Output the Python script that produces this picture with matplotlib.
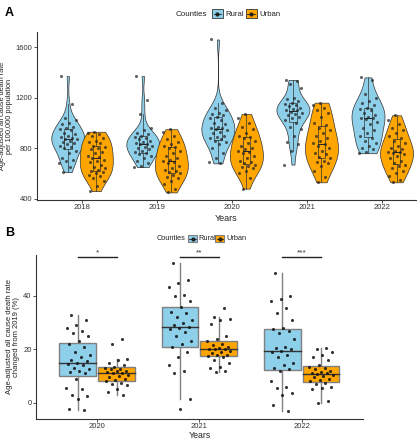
import numpy as np
import matplotlib
matplotlib.use("Agg")
import matplotlib.pyplot as plt
from matplotlib.patches import Rectangle
from matplotlib.lines import Line2D

plt.rcParams['font.family'] = ['Liberation Sans', 'DejaVu Sans']

RURAL = "#8ECFEA"
URBAN = "#FFA500"

# ---- panel A data: age-adjusted death rate per 100,000 ----
years_a = ["2018", "2019", "2020", "2021", "2022"]
rural_a = [
    [1370, 1150, 1040, 1020, 1000, 990, 970, 960, 950, 940, 920, 910, 900, 890, 880, 870,
     870, 860, 850, 840, 830, 820, 810, 800, 780, 760, 720, 710, 700, 680, 650, 610],
    [1370, 1180, 1070, 960, 940, 920, 910, 900, 890, 880, 870, 860, 850, 840, 830, 830,
     820, 810, 800, 790, 780, 770, 760, 750, 740, 720, 700, 680, 660, 650],
    [1660, 1160, 1120, 1100, 1080, 1070, 1060, 1050, 1040, 1020, 1000, 990, 970, 960, 960,
     950, 940, 930, 920, 900, 890, 880, 870, 860, 850, 830, 800, 760, 720, 690, 680],
    [1340, 1330, 1310, 1280, 1200, 1190, 1170, 1160, 1150, 1140, 1130, 1120, 1110, 1100, 1100,
     1090, 1080, 1070, 1060, 1050, 1040, 1020, 1000, 970, 950, 900, 850, 830, 780, 670],
    [1360, 1340, 1230, 1200, 1170, 1160, 1140, 1120, 1110, 1100, 1080, 1060, 1050, 1040, 1040,
     1030, 1010, 990, 960, 940, 920, 900, 880, 860, 840, 820, 800, 790, 770, 760],
]
urban_a = [
    [930, 920, 910, 900, 880, 860, 850, 840, 820, 810, 800, 790, 770, 760, 740, 730, 720,
     710, 700, 690, 670, 650, 640, 630, 620, 610, 600, 590, 580, 560, 540, 500, 460],
    [950, 930, 900, 870, 850, 830, 820, 810, 800, 780, 760, 740, 720, 710, 700, 690, 680,
     660, 640, 630, 620, 610, 600, 590, 570, 560, 540, 520, 480, 450],
    [1070, 1040, 1000, 970, 950, 920, 900, 890, 880, 860, 840, 820, 800, 790, 780, 770, 760,
     740, 720, 700, 690, 680, 670, 660, 650, 640, 620, 600, 560, 480],
    [1160, 1140, 1120, 1100, 1080, 1050, 1000, 980, 960, 940, 920, 900, 880, 860, 840, 830,
     820, 800, 780, 760, 750, 730, 720, 700, 690, 680, 660, 620, 570, 530],
    [1060, 1020, 990, 960, 940, 920, 900, 880, 860, 840, 820, 800, 790, 780, 770, 770, 760,
     750, 740, 720, 700, 680, 670, 660, 640, 620, 600, 580, 550, 530],
]

# ---- panel B data: % change from 2019 ----
years_b = ["2020", "2021", "2022"]
rural_b = [
    [33, 31, 29, 28, 27, 26, 25, 23, 22, 21, 19, 18, 17, 16, 15.5, 15, 14.5, 14, 13, 12.5,
     12, 11.5, 11, 9, 5.5, 5, 3, 2.5, 1.5, -2.5, -2.8],
    [52.5, 46, 45, 43.5, 40.5, 40, 38, 36, 34, 33.5, 32, 31, 30, 29, 28.5, 28, 27.5, 26.5,
     25, 23, 22, 21, 19, 17, 14, 12, 11, 1.5, -2.5],
    [48.5, 40, 39, 38, 35.5, 33.5, 31, 28, 27.5, 27, 26, 24, 21, 20.5, 20, 19.5, 19, 18, 17,
     15, 14, 13, 12.5, 12, 8, 6, 5.5, 3.5, 3, -1, -3],
]
urban_b = [
    [24, 22, 16.5, 16, 15, 14, 13.5, 13, 12.8, 12.5, 12, 11.8, 11.5, 11.3, 11, 10.5, 10,
     9.5, 9, 8.5, 8, 7.5, 7, 6.5, 5, 4, 3],
    [35.5, 32, 31.5, 31, 29.5, 25, 24, 23, 22, 21.5, 21, 20.5, 20.3, 20, 20, 19.5, 19, 18.5,
     18, 18, 17.5, 17, 16, 15, 13.5, 13, 12, 11.5],
    [20.5, 20, 19, 18, 17, 16, 14, 13.5, 13, 12.5, 12, 11.5, 11.2, 11, 10.8, 10.5, 10, 9.5,
     9, 8.5, 8, 7.5, 7, 6, 5.5, 5, 0.5, 0],
]
stars = ["*", "**", "***"]


def jitter(n, width, shift=0.0):
    # deterministic spread of point positions
    return ((np.arange(n) * 0.618 + shift) % 1.0 - 0.5) * 2 * width


def violin(ax, x, vals, color, halfw=0.22):
    v = np.asarray(vals, float)
    sd = v.std(ddof=1)
    iqr = np.subtract(*np.percentile(v, [75, 25]))
    bw = 1.25 * 0.9 * min(sd, iqr / 1.34) * len(v) ** -0.2
    ys = np.linspace(v.min(), v.max(), 200)
    dens = np.exp(-0.5 * ((ys[:, None] - v[None, :]) / bw) ** 2).sum(axis=1)
    w = dens / dens.max() * halfw
    ax.fill_betweenx(ys, x - w, x + w, facecolor=color, edgecolor="#333333", lw=0.5, zorder=1)


def small_box(ax, x, vals, width, lw, ec, fc, medc, medlw, whc, z=2):
    v = np.asarray(vals, float)
    q1, med, q3 = np.percentile(v, [25, 50, 75])
    i = q3 - q1
    lo = v[v >= q1 - 1.5 * i].min()
    hi = v[v <= q3 + 1.5 * i].max()
    ax.plot([x, x], [hi, q3], color=whc, lw=lw, zorder=z)
    ax.plot([x, x], [lo, q1], color=whc, lw=lw, zorder=z)
    ax.add_patch(Rectangle((x - width / 2, q1), width, q3 - q1,
                           facecolor=fc if fc else "none", edgecolor=ec, lw=lw, zorder=z + 0.1))
    ax.plot([x - width / 2, x + width / 2], [med, med], color=medc, lw=medlw, zorder=z + 0.2)


def style(ax):
    for s in ["top", "right"]:
        ax.spines[s].set_visible(False)
    for s in ["left", "bottom"]:
        ax.spines[s].set_color("#333333")
        ax.spines[s].set_linewidth(0.8)
    ax.tick_params(labelsize=5.5, length=2, width=0.6, color="#333333", pad=1.2,
                   labelcolor="#333333")


def legend_key(fig, x, y, w, h, color, box_lw, ec):
    fig.add_artist(Rectangle((x, y), w, h, transform=fig.transFigure, facecolor=color,
                             edgecolor=ec, lw=box_lw))
    fig.add_artist(Line2D([x + w * 0.15, x + w * 0.85], [y + h / 2, y + h / 2],
                          transform=fig.transFigure, color="#222222", lw=0.6))
    fig.add_artist(Line2D([x + w / 2], [y + h / 2], transform=fig.transFigure, marker="o",
                          ms=2, color="#222222", lw=0))


fig = plt.figure(figsize=(4.17, 4.40), dpi=100)

# ---------------- Panel A ----------------
axA = fig.add_axes([0.0887, 0.5455, 0.909, 0.382])
dodge = 0.19
for k in range(len(years_a)):
    xc = k + 1
    for vals, col, sgn, sh in [(rural_a[k], RURAL, -1, 0.1), (urban_a[k], URBAN, 1, 0.4)]:
        x = xc + sgn * dodge
        violin(axA, x, vals, col)
        small_box(axA, x, vals, 0.1, 0.5, "#333333", None, "#222222", 0.7, "#333333")
        axA.scatter(x + jitter(len(vals), 0.12, sh), vals, s=5, color="#222222",
                    alpha=0.7, lw=0, zorder=4)
axA.set_xlim(0.4, 5.45)
axA.set_ylim(390, 1720)
axA.set_yticks([400, 800, 1200, 1600])
axA.set_xticks(range(1, len(years_a) + 1))
axA.set_xticklabels(years_a)
style(axA)
axA.set_xlabel("Years", fontsize=6.5, labelpad=1.5, color="#222222")
axA.set_ylabel("Age-adjusted all cause death rate\nper 100,000 population", fontsize=5.3,
               labelpad=2, color="#222222", linespacing=1.0)

fig.text(0.012, 0.985, "A", fontsize=9, fontweight="bold", va="top")
fig.text(0.422, 0.968, "Counties", fontsize=5.8, va="center", color="#222222")
legend_key(fig, 0.508, 0.958, 0.027, 0.021, RURAL, 0.6, "#333333")
fig.text(0.541, 0.968, "Rural", fontsize=5.6, va="center", color="#222222")
legend_key(fig, 0.589, 0.958, 0.027, 0.021, URBAN, 0.6, "#333333")
fig.text(0.623, 0.968, "Urban", fontsize=5.6, va="center", color="#222222")

# ---------------- Panel B ----------------
axB = fig.add_axes([0.0863, 0.0477, 0.784, 0.373])
for k in range(len(years_b)):
    xc = k + 1
    for vals, col, sgn, sh in [(rural_b[k], RURAL, -1, 0.2), (urban_b[k], URBAN, 1, 0.7)]:
        x = xc + sgn * dodge
        small_box(axB, x, vals, 0.36, 1.0, "#808080", col, "#333333", 1.0, "#808080")
        axB.scatter(x + jitter(len(vals), 0.12, sh), vals, s=5, color="#111111",
                    alpha=0.85, lw=0, zorder=4)
    axB.plot([xc - dodge, xc + dodge], [54.5, 54.5], color="#222222", lw=1.0)
    axB.text(xc, 55.0, stars[k], ha="center", va="bottom", fontsize=6, color="#333333")
axB.set_xlim(0.4, 3.6)
axB.set_ylim(-6.1, 55.4)
axB.set_yticks([0, 20, 40])
axB.set_xticks(range(1, len(years_b) + 1))
axB.set_xticklabels(years_b)
style(axB)
axB.set_xlabel("Years", fontsize=6.3, labelpad=0.5, color="#222222")
axB.set_ylabel("Age-adjusted all cause death rate\nchanged from 2019 (%)", fontsize=5.5,
               labelpad=2, color="#222222", linespacing=1.0)

fig.text(0.012, 0.485, "B", fontsize=9, fontweight="bold", va="top")
fig.text(0.376, 0.457, "Counties", fontsize=5.3, va="center", color="#222222")
legend_key(fig, 0.451, 0.449, 0.022, 0.017, RURAL, 0.8, "#808080")
fig.text(0.476, 0.457, "Rural", fontsize=5.3, va="center", color="#222222")
legend_key(fig, 0.516, 0.449, 0.022, 0.017, URBAN, 0.8, "#808080")
fig.text(0.542, 0.457, "Urban", fontsize=5.3, va="center", color="#222222")

plt.savefig("out.png", dpi=100)
